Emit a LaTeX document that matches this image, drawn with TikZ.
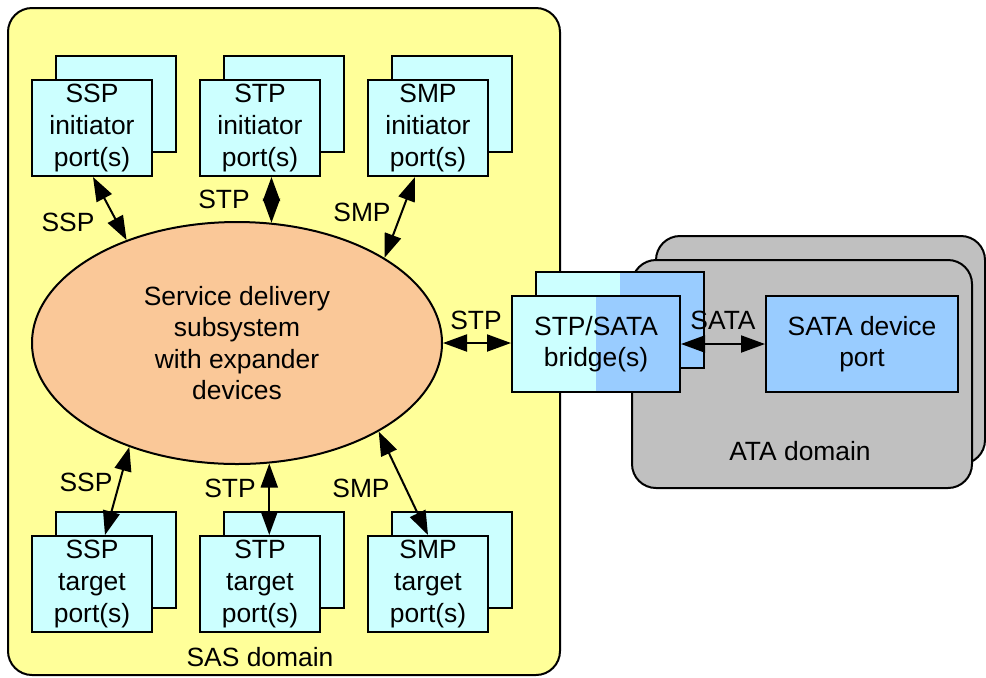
\documentclass[tikz,border=0pt]{standalone}
\usepackage{fontspec}
\setmainfont{Liberation Sans}
\usetikzlibrary{arrows.meta,shapes.geometric,calc}
\definecolor{sasyellow}{HTML}{FFFF99}
\definecolor{portcyan}{HTML}{CCFFFF}
\definecolor{satablue}{HTML}{99CCFF}
\definecolor{atagray}{HTML}{C0C0C0}
\definecolor{sdsorange}{HTML}{FAC898}
\begin{document}
\begin{tikzpicture}[x=0.5pt,y=-0.5pt, font=\fontsize{13.2}{15.8}\selectfont, line width=1pt,
  portbox/.style={draw, fill=portcyan, minimum width=60pt, minimum height=48pt, inner sep=0pt, align=center},
  bridgebox/.style={draw, fill=portcyan, minimum width=84pt, minimum height=48pt, inner sep=0pt, align=center,
    path picture={\fill[satablue] (path picture bounding box.north) rectangle (path picture bounding box.south east);}},
  link/.style={line width=1pt, {Triangle[length=12pt,width=8.5pt]}-{Triangle[length=12pt,width=8.5pt]}},
  lbl/.style={inner sep=0pt},
  domainbox/.style={draw, rounded corners=12pt}]
\useasboundingbox (0,0) rectangle (986,677);
% domains
\draw[domainbox, fill=sasyellow] (8,8) rectangle (560,675);
\draw[domainbox, fill=atagray] (656,236) rectangle (985,464);
\draw[domainbox, fill=atagray] (632,260) rectangle (972,488);
\node[lbl] (sasl) at (260,657) {SAS domain};
\node[lbl] (atal) at (800,451) {ATA domain};
% SATA device and bridge
\node[draw, fill=satablue, minimum width=96pt, minimum height=48pt, inner sep=0pt, align=center] (sata) at (862,344) {SATA device\\port};
\node[bridgebox] (bridgeb) at (620,320) {};
\node[bridgebox] (bridge) at (596,344) {STP/SATA\\bridge(s)};
% ellipse
\node[ellipse, draw, fill=sdsorange, minimum width=205pt, minimum height=121pt, inner sep=0pt, align=center] (sds) at (237,343) {Service delivery\\subsystem\\with expander\\devices};
% initiator ports
\node[portbox] (sspib) at (116,104) {};
\node[portbox] (sspi) at (92,128) {SSP\\initiator\\port(s)};
\node[portbox] (stpib) at (284,104) {};
\node[portbox] (stpi) at (260,128) {STP\\initiator\\port(s)};
\node[portbox] (smpib) at (452,104) {};
\node[portbox] (smpi) at (428,128) {SMP\\initiator\\port(s)};
% target ports
\node[portbox] (ssptb) at (116,560) {};
\node[portbox] (sspt) at (92,584) {SSP\\target\\port(s)};
\node[portbox] (stptb) at (284,560) {};
\node[portbox] (stpt) at (260,584) {STP\\target\\port(s)};
\node[portbox] (smptb) at (452,560) {};
\node[portbox] (smpt) at (428,584) {SMP\\target\\port(s)};
% connectors
\draw[link] ($(sspi.south)+(1,0)$) -- (sds.137.2);
\draw[link] (sds.74.1) -- (sds.74.1 |- stpi.south);
\draw[link] ($(smpi.south)+(-13,0)$) -- (sds.30.4);
\draw[link] (sds.224.5) -- ($(sspt.north)+(13,0)$);
\draw[link] (sds.285.9) -- (sds.285.9 |- stpt.north);
\draw[link] (sds.328.7) -- (smpt.north);
\draw[link] (sds.east) -- (sds.east -| bridge.west);
\draw[link] (bridge.east) -- (sata.west);
% labels
\node[lbl] (l1) at (68,222) {SSP};
\node[lbl] (l2) at (224,199) {STP};
\node[lbl] (l3) at (362,212) {SMP};
\node[lbl] (l4) at (86,482) {SSP};
\node[lbl] (l5) at (230,488) {STP};
\node[lbl] (l6) at (361,488) {SMP};
\node[lbl] (l7) at (476,320) {STP};
\node[lbl] (l8) at (723,320) {SATA};
\end{tikzpicture}
\end{document}
